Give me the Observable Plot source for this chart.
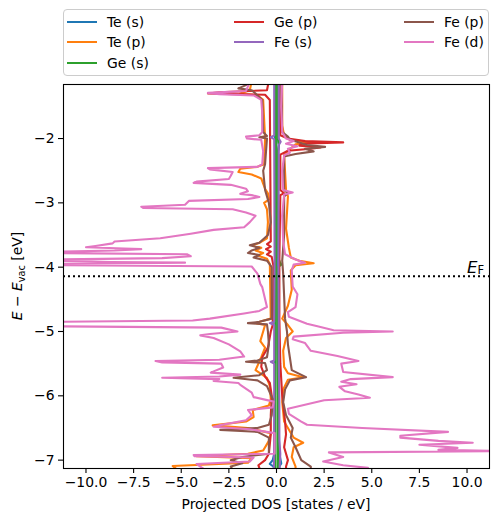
<!DOCTYPE html>
<html><head><meta charset="utf-8">
<script src="https://cdn.jsdelivr.net/npm/d3@7"></script>
<script src="https://cdn.jsdelivr.net/npm/@observablehq/plot@0.6"></script>
<style>
body{margin:0;background:#fff;}
#wrap{position:relative;width:498px;height:522px;font-family:"DejaVu Sans",sans-serif;color:#000;}
#legend{position:absolute;left:63px;top:9px;width:426px;height:67px;box-sizing:border-box;border:1px solid #ccc;border-radius:4px;background:rgba(255,255,255,0.8);z-index:2;}
.item{position:absolute;height:20px;display:flex;align-items:center;font-size:13.9px;white-space:nowrap;}
.item .h{display:inline-block;width:30px;height:2.1px;margin-right:10px;}
</style>
</head><body>
<div id="wrap"><div id="legend"></div></div>
<script>
const seriesNames = ["Te (s)", "Te (p)", "Ge (s)", "Ge (p)", "Fe (s)", "Fe (p)", "Fe (d)"];
const seriesColors = ["#1f77b4","#ff7f0e","#2ca02c","#d62728","#9467bd","#8c564b","#e377c2"];
const xTicks = [-10, -7.5, -5, -2.5, 0, 2.5, 5, 7.5, 10];
const yTicks = [-7, -6, -5, -4, -3, -2];
const fermiLevel = -4.14;

// [energy (eV), projected DOS]
const teS_up = [[-1.1,0.08],[-2.0,0.08],[-2.1,0.12],[-2.2,0.08],[-3.9,0.06],[-4.9,0.08],[-5.5,0.1],[-6.1,0.1],[-6.5,0.12],[-6.9,0.15],[-7.05,0.25],[-7.1,0.15],[-7.2,0.12]];
const teS_down = [[-1.1,-0.08],[-2.0,-0.08],[-3.9,-0.05],[-5.0,-0.06],[-6.0,-0.08],[-6.9,-0.12],[-7.0,-0.2],[-7.06,-0.35],[-7.1,-0.15],[-7.2,-0.1]];

const teP_up = [[-1.1,0.3],[-1.8,0.3],[-1.95,0.4],[-2.02,0.7],[-2.06,1.8],[-2.09,1.0],[-2.14,0.8],[-2.25,0.4],[-2.8,0.5],[-2.9,0.6],[-3.4,0.5],[-3.5,0.55],[-3.7,0.65],[-3.85,0.75],[-3.9,1.2],[-3.94,1.95],[-3.97,1.0],[-4.05,0.75],[-4.35,0.8],[-4.6,0.6],[-4.8,0.3],[-4.9,0.6],[-5.0,0.85],[-5.1,0.5],[-5.3,0.35],[-5.55,0.4],[-5.65,0.6],[-5.71,1.4],[-5.75,0.6],[-5.9,0.35],[-6.1,0.3],[-6.4,0.4],[-6.55,0.7],[-6.65,0.9],[-6.73,1.4],[-6.8,0.9],[-6.95,0.8],[-7.1,1.0],[-7.2,1.0]];
const teP_down = [[-1.1,-1.3],[-1.25,-1.4],[-1.3,-1.9],[-1.33,-1.0],[-1.4,-0.7],[-2.0,-0.6],[-2.4,-0.65],[-2.44,-1.0],[-2.47,-1.9],[-2.52,-2.0],[-2.56,-1.3],[-2.62,-0.8],[-2.7,-0.7],[-2.78,-0.6],[-2.85,-0.45],[-2.95,-0.4],[-3.0,-0.65],[-3.1,-0.5],[-3.3,-0.45],[-3.55,-0.5],[-3.62,-0.9],[-3.66,-1.25],[-3.7,-0.8],[-3.74,-1.1],[-3.78,-0.7],[-3.82,-1.0],[-3.87,-0.5],[-3.95,-0.35],[-4.8,-0.3],[-4.84,-0.8],[-4.87,-1.1],[-4.9,-0.6],[-5.0,-0.7],[-5.15,-0.85],[-5.25,-0.6],[-5.4,-0.8],[-5.6,-1.1],[-5.72,-0.5],[-5.85,-0.35],[-6.05,-0.3],[-6.15,-0.4],[-6.22,-1.25],[-6.33,-1.2],[-6.4,-1.6],[-6.46,-3.35],[-6.5,-1.5],[-6.58,-0.3],[-6.7,-0.4],[-6.85,-0.7],[-6.9,-1.5],[-6.94,-4.2],[-6.97,-1.3],[-7.04,-1.5],[-7.09,-5.45],[-7.2,-5.0]];

const geS_up = [[-1.1,0.06],[-2.0,0.08],[-2.1,0.12],[-2.2,0.08],[-3.85,0.08],[-3.92,0.18],[-3.96,0.25],[-4.0,0.08],[-4.9,0.06],[-6.0,0.08],[-7.2,0.08]];
const geS_down = [[-1.1,-0.03],[-3.0,-0.03],[-4.9,-0.04],[-6.0,-0.05],[-7.2,-0.05]];

const geP_up = [[-1.1,0.15],[-1.95,0.2],[-2.0,0.6],[-2.04,1.5],[-2.06,3.5],[-2.08,1.3],[-2.11,1.2],[-2.14,2.3],[-2.16,1.8],[-2.19,0.6],[-2.25,0.2],[-2.8,0.2],[-2.85,0.4],[-2.88,0.2],[-3.9,0.15],[-4.8,0.15],[-5.5,0.2],[-6.0,0.3],[-6.4,0.45],[-6.6,0.5],[-6.8,0.4],[-7.0,0.6],[-7.1,0.5],[-7.2,0.5]];
const geP_down = [[-1.1,-0.4],[-1.25,-0.5],[-1.28,-3.0],[-1.3,-3.6],[-1.32,-0.6],[-1.4,-0.35],[-3.6,-0.3],[-3.64,-0.5],[-3.68,-0.3],[-3.72,-0.55],[-3.76,-0.3],[-3.8,-0.5],[-3.84,-0.25],[-4.0,-0.15],[-4.9,-0.2],[-5.0,-0.3],[-5.25,-0.45],[-5.4,-0.75],[-5.55,-0.8],[-5.7,-0.6],[-5.8,-0.35],[-6.0,-0.25],[-6.3,-0.3],[-6.6,-0.3],[-6.9,-0.4],[-7.0,-0.6],[-7.08,-0.95],[-7.2,-0.8]];

const feS_up = [[-1.1,0.12],[-2.0,0.12],[-2.05,0.22],[-2.1,0.12],[-3.9,0.1],[-4.9,0.12],[-5.5,0.12],[-6.1,0.15],[-6.7,0.15],[-6.9,0.2],[-7.2,0.15]];
const feS_down = [[-1.1,-0.12],[-1.95,-0.12],[-1.98,-0.3],[-2.01,-0.12],[-3.9,-0.1],[-4.85,-0.12],[-4.87,-0.35],[-4.9,-0.12],[-5.45,-0.12],[-5.47,-0.3],[-5.5,-0.12],[-6.9,-0.12],[-7.2,-0.15]];

const feP_up = [[-1.1,0.25],[-1.9,0.3],[-1.97,0.6],[-2.02,0.7],[-2.06,1.2],[-2.1,1.6],[-2.13,2.55],[-2.16,1.5],[-2.2,1.95],[-2.24,1.0],[-2.28,0.4],[-2.8,0.4],[-2.85,0.6],[-2.9,0.4],[-3.5,0.4],[-3.9,0.3],[-4.1,0.35],[-4.8,0.45],[-5.0,0.55],[-5.2,0.6],[-5.4,0.7],[-5.6,0.8],[-5.71,1.55],[-5.76,0.7],[-5.9,0.45],[-6.1,0.35],[-6.3,0.5],[-6.5,0.85],[-6.65,0.75],[-6.8,1.0],[-7.0,1.3],[-7.1,1.8],[-7.2,1.8]];
const feP_down = [[-1.1,-1.5],[-1.17,-1.6],[-1.22,-2.0],[-1.25,-1.3],[-1.3,-1.1],[-1.4,-0.75],[-1.9,-0.7],[-1.96,-0.5],[-1.98,-0.9],[-2.0,-0.5],[-2.4,-0.6],[-2.5,-0.7],[-2.8,-0.6],[-3.0,-0.4],[-3.3,-0.3],[-3.5,-0.45],[-3.62,-0.9],[-3.66,-1.4],[-3.7,-0.9],[-3.74,-1.3],[-3.78,-1.5],[-3.81,-0.9],[-3.85,-1.2],[-3.9,-0.5],[-4.0,-0.25],[-4.8,-0.25],[-4.85,-0.9],[-4.87,-1.5],[-4.89,-0.5],[-5.0,-0.45],[-5.2,-0.4],[-5.4,-0.5],[-5.45,-1.0],[-5.47,-1.6],[-5.49,-0.6],[-5.6,-0.5],[-5.68,-0.9],[-5.72,-2.25],[-5.76,-1.0],[-5.85,-0.5],[-6.05,-0.2],[-6.3,-0.25],[-6.45,-0.4],[-6.5,-1.0],[-6.53,-2.95],[-6.56,-1.0],[-6.65,-0.4],[-6.9,-0.4],[-6.95,-1.8],[-7.0,-2.4],[-7.05,-1.8],[-7.1,-2.4],[-7.2,-2.2]];

const feD_up = [[-1.1,0.3],[-1.5,0.25],[-1.9,0.3],[-2.0,0.5],[-2.04,0.9],[-2.08,0.5],[-2.12,1.1],[-2.16,0.6],[-2.22,0.7],[-2.26,0.4],[-2.5,0.3],[-2.8,0.35],[-2.84,0.85],[-2.87,0.4],[-3.2,0.3],[-3.6,0.35],[-3.8,0.45],[-3.88,1.0],[-3.93,1.5],[-3.96,0.9],[-4.05,0.8],[-4.3,0.85],[-4.42,1.1],[-4.62,1.0],[-4.7,0.6],[-4.77,0.65],[-4.88,1.6],[-4.92,2.15],[-4.98,3.0],[-5.0,6.1],[-5.02,3.5],[-5.08,0.9],[-5.12,0.85],[-5.18,1.5],[-5.3,1.8],[-5.38,3.2],[-5.46,4.3],[-5.5,3.4],[-5.63,3.5],[-5.71,6.1],[-5.74,3.9],[-5.78,3.4],[-5.82,4.2],[-5.86,3.3],[-5.93,3.6],[-5.98,4.3],[-6.03,4.9],[-6.07,2.5],[-6.2,0.6],[-6.28,0.65],[-6.4,1.3],[-6.45,1.6],[-6.5,4.5],[-6.56,9.0],[-6.62,6.5],[-6.65,6.5],[-6.7,8.5],[-6.73,10.3],[-6.76,7.5],[-6.81,9.5],[-6.84,8.5],[-6.86,11.8],[-6.88,2.75],[-6.95,3.5],[-7.02,2.45],[-7.08,3.5],[-7.12,4.8],[-7.2,4.0]];
const feD_down = [[-1.1,-1.4],[-1.19,-1.5],[-1.26,-1.6],[-1.29,-3.6],[-1.31,-3.0],[-1.33,-1.2],[-1.4,-0.8],[-1.6,-0.75],[-1.9,-0.75],[-1.95,-0.9],[-1.97,-1.6],[-2.0,-1.55],[-2.02,-0.8],[-2.2,-0.7],[-2.4,-0.75],[-2.44,-1.0],[-2.46,-3.6],[-2.48,-3.5],[-2.52,-2.3],[-2.58,-2.4],[-2.63,-2.5],[-2.67,-4.2],[-2.69,-4.35],[-2.72,-2.4],[-2.78,-1.6],[-2.82,-1.5],[-2.86,-1.9],[-2.88,-1.3],[-2.91,-0.9],[-2.94,-1.5],[-2.97,-4.6],[-3.03,-4.8],[-3.06,-7.1],[-3.08,-7.0],[-3.1,-2.3],[-3.15,-1.6],[-3.2,-1.1],[-3.3,-1.4],[-3.38,-1.7],[-3.42,-3.3],[-3.48,-4.5],[-3.55,-6.1],[-3.6,-8.5],[-3.63,-8.6],[-3.67,-9.5],[-3.69,-10.0],[-3.71,-8.0],[-3.72,-7.1],[-3.74,-8.5],[-3.76,-11.5],[-3.78,-11.6],[-3.8,-4.7],[-3.83,-4.5],[-3.86,-6.0],[-3.88,-11.5],[-3.9,-11.5],[-3.92,-8.7],[-3.93,-4.8],[-3.95,-11.5],[-3.97,-11.5],[-3.99,-1.3],[-4.1,-1.0],[-4.26,-0.85],[-4.31,-0.75],[-4.62,-0.5],[-4.68,-0.9],[-4.72,-1.7],[-4.8,-3.5],[-4.83,-4.4],[-4.85,-11.5],[-4.92,-11.5],[-4.94,-2.9],[-5.0,-2.05],[-5.04,-3.5],[-5.06,-4.0],[-5.1,-3.3],[-5.2,-2.5],[-5.31,-1.9],[-5.39,-1.7],[-5.44,-3.0],[-5.46,-6.35],[-5.48,-6.0],[-5.5,-2.9],[-5.56,-2.8],[-5.62,-3.3],[-5.64,-3.45],[-5.67,-1.9],[-5.7,-3.0],[-5.72,-6.0],[-5.74,-3.0],[-5.77,-3.3],[-5.8,-2.0],[-5.83,-1.9],[-5.95,-1.3],[-6.02,-1.2],[-6.09,-0.15],[-6.18,-0.2],[-6.22,-1.5],[-6.3,-1.3],[-6.38,-1.6],[-6.46,-3.0],[-6.48,-3.3],[-6.52,-1.4],[-6.58,-0.1],[-6.9,-0.1],[-6.92,-4.35],[-6.94,-4.3],[-6.96,-1.2],[-7.02,-1.4],[-7.06,-4.2],[-7.1,-4.0],[-7.2,-3.5]];

const curves = [
  ["Te (s)", teS_up, teS_down],
  ["Te (p)", teP_up, teP_down],
  ["Ge (s)", geS_up, geS_down],
  ["Ge (p)", geP_up, geP_down],
  ["Fe (s)", feS_up, feS_down],
  ["Fe (p)", feP_up, feP_down],
  ["Fe (d)", feD_up, feD_down]
];
const rows = [];
for (const [series, up, down] of curves) {
  for (const [E, dos] of up) rows.push({series, key: series + " up", E, dos});
  for (const [E, dos] of down) rows.push({series, key: series + " down", E, dos});
}

const chart = Plot.plot({
  width: 498, height: 522,
  marginLeft: 63, marginRight: 9, marginTop: 84, marginBottom: 54,
  x: {domain: [-11.18, 11.18]},
  y: {domain: [-7.13, -1.16]},
  color: {domain: seriesNames, range: seriesColors},
  style: {fontFamily: "DejaVu Sans", fontSize: "13.9px", color: "black", background: "transparent"},
  marks: [
    Plot.line(rows, {x: "dos", y: "E", z: "key", stroke: "series", strokeWidth: 2.1, clip: true}),
    Plot.ruleY([fermiLevel], {stroke: "black", strokeWidth: 2, strokeDasharray: "2,3"}),
    Plot.frame({stroke: "black", strokeWidth: 1.1}),
    Plot.axisX({ticks: xTicks, tickFormat: d3.format(".1f"), tickSize: 5, tickPadding: 4, label: null, fontSize: 13.9, strokeWidth: 1.1}),
    Plot.axisY({ticks: yTicks, tickFormat: d3.format("d"), tickSize: 5, tickPadding: 4, label: null, fontSize: 13.9, strokeWidth: 1.1})
  ]
});
chart.style.position = "absolute";
chart.style.left = "0px";
chart.style.top = "0px";
document.getElementById("wrap").appendChild(chart);

const svg = d3.select(chart);
// x label
svg.append("text").attr("x", 276).attr("y", 509).attr("text-anchor", "middle")
  .attr("font-size", 13.9).attr("fill", "black").text("Projected DOS [states / eV]");
// y label
const yl = svg.append("text").attr("transform", "translate(22,276) rotate(-90)")
  .attr("text-anchor", "middle").attr("font-size", 13.9).attr("fill", "black");
yl.append("tspan").attr("font-style", "italic").text("E");
yl.append("tspan").text(" \u2212 ");
yl.append("tspan").attr("font-style", "italic").text("E");
yl.append("tspan").attr("font-size", 9.7).attr("dy", 3).text("vac");
yl.append("tspan").attr("dy", -3).text(" [eV]");
// Fermi label
const ef = svg.append("text").attr("x", 484).attr("y", 273).attr("text-anchor", "end")
  .attr("font-size", 16.5).attr("fill", "black");
ef.append("tspan").attr("font-style", "italic").text("E");
ef.append("tspan").attr("font-size", 11.5).attr("dy", 1).text("F");

// legend
const legendCols = [[0,1,2],[3,4],[5,6]];
const colX = [67, 234, 404];
const rowY = [22, 42, 63];
const wrap = d3.select("#wrap");
legendCols.forEach((col, ci) => col.forEach((si, ri) => {
  const it = wrap.append("div").attr("class", "item")
    .style("left", colX[ci] + "px").style("top", (rowY[ri] - 10) + "px").style("z-index", 3);
  it.append("span").attr("class", "h").style("background", seriesColors[si]);
  it.append("span").text(seriesNames[si]);
}));
</script>
</body></html>
